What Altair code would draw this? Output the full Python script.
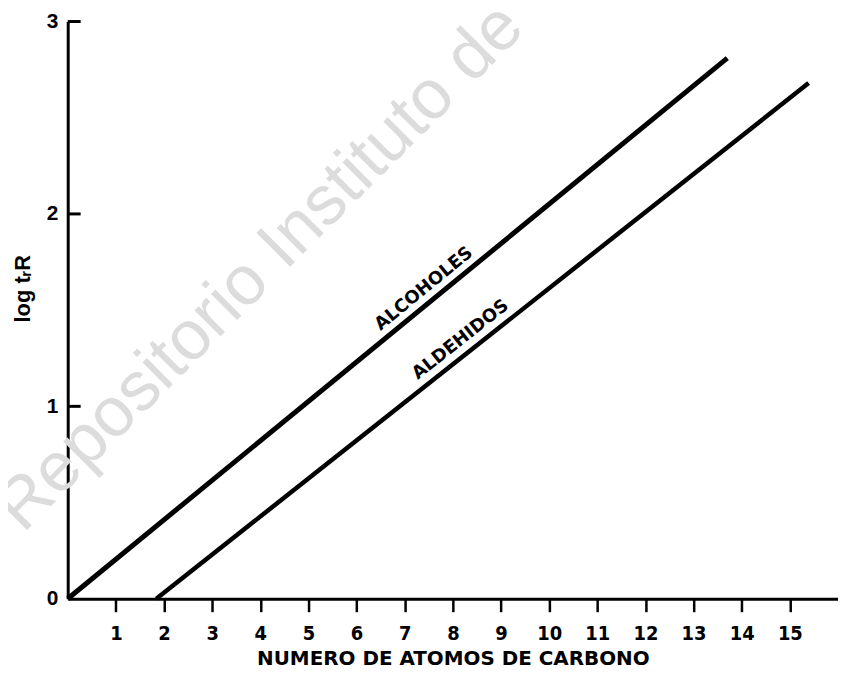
import altair as alt
import pandas as pd

# ---- data ----
series = ["ALCOHOLES", "ALCOHOLES", "ALDEHIDOS", "ALDEHIDOS"]
carbon_atoms = [0.0, 13.7, 1.84, 15.39]
log_tr = [0.0, 2.81, 0.0, 2.68]

x_tick_values = list(range(1, 16))
y_tick_values = [0, 1, 2, 3]
y_inner_ticks = [1, 2, 3]

label_text = ["ALCOHOLES", "ALDEHIDOS"]
label_x = [7.40, 8.16]
label_y = [1.61, 1.345]
label_angle = [320.7, 321.7]

watermark_text = ["Repositorio Instituto de Química"]

df = pd.DataFrame({"series": series, "carbon": carbon_atoms, "logtr": log_tr})
df_lab = pd.DataFrame({"text": label_text, "carbon": label_x, "logtr": label_y, "angle": label_angle})
df_yt = pd.DataFrame({"logtr": y_inner_ticks})
df_wm = pd.DataFrame({"text": watermark_text})

x_scale = alt.Scale(domain=[0, 16], nice=False, zero=False)
y_scale = alt.Scale(domain=[0, 3], nice=False)

x_axis = alt.Axis(values=x_tick_values, title="NUMERO DE ATOMOS DE CARBONO",
                  labelFont="Liberation Sans Narrow, DejaVu Sans Condensed, Liberation Sans",
                  labelFontSize=20, labelFontWeight="bold", labelPadding=12,
                  tickSize=13, tickWidth=2.5,
                  titleFont="DejaVu Sans", titleFontSize=20, titleFontWeight="bold",
                  titlePadding=5)
y_axis = alt.Axis(values=y_tick_values, ticks=False, title="log tᵣR",
                  labelFont="Liberation Sans", labelFontSize=21, labelFontWeight="bold",
                  labelPadding=10, labelBaseline="middle",
                  titleFont="Liberation Sans", titleFontSize=22, titleFontWeight="bold",
                  titleAngle=270, titleX=-45, titleY=268, titleAlign="center",
                  titleBaseline="middle")

X = alt.X("carbon:Q", scale=x_scale, axis=x_axis)
Y = alt.Y("logtr:Q", scale=y_scale, axis=y_axis)

watermark = alt.Chart(df_wm).mark_text(
    font="Liberation Sans", fontSize=70, color="#dcdcdc",
    angle=315, align="left", baseline="alphabetic"
).encode(text="text:N", x=alt.value(-45), y=alt.value(515))

line_alc = alt.Chart(df).transform_filter(alt.datum.series == "ALCOHOLES").mark_line(
    color="black", strokeWidth=5, strokeCap="butt").encode(x=X, y=Y)
line_ald = alt.Chart(df).transform_filter(alt.datum.series == "ALDEHIDOS").mark_line(
    color="black", strokeWidth=4.5, strokeCap="butt").encode(x=X, y=Y)

yticks = alt.Chart(df_yt).mark_rule(color="black", strokeWidth=3).encode(
    y=Y, x=alt.value(0), x2=alt.value(13),
)

labels = alt.Chart(df_lab).mark_text(
    font="DejaVu Sans", fontSize=18, fontWeight="bold", color="black",
    align="center", baseline="middle"
).encode(
    x=X, y=Y,
    text="text:N",
    angle=alt.Angle("angle:Q", scale=None),
)

chart = alt.layer(line_alc, line_ald, watermark, yticks, labels).properties(
    width=774, height=580,
    autosize=alt.AutoSizeParams(type="none"),
    padding={"left": 60, "top": 12, "right": 0, "bottom": 69},
).configure_view(stroke=None).configure_axis(
    domainColor="black", domainWidth=3, tickColor="black", labelColor="black",
    titleColor="black", grid=False
)

chart.save("out.html", embed_options={"renderer": "svg", "actions": False})
